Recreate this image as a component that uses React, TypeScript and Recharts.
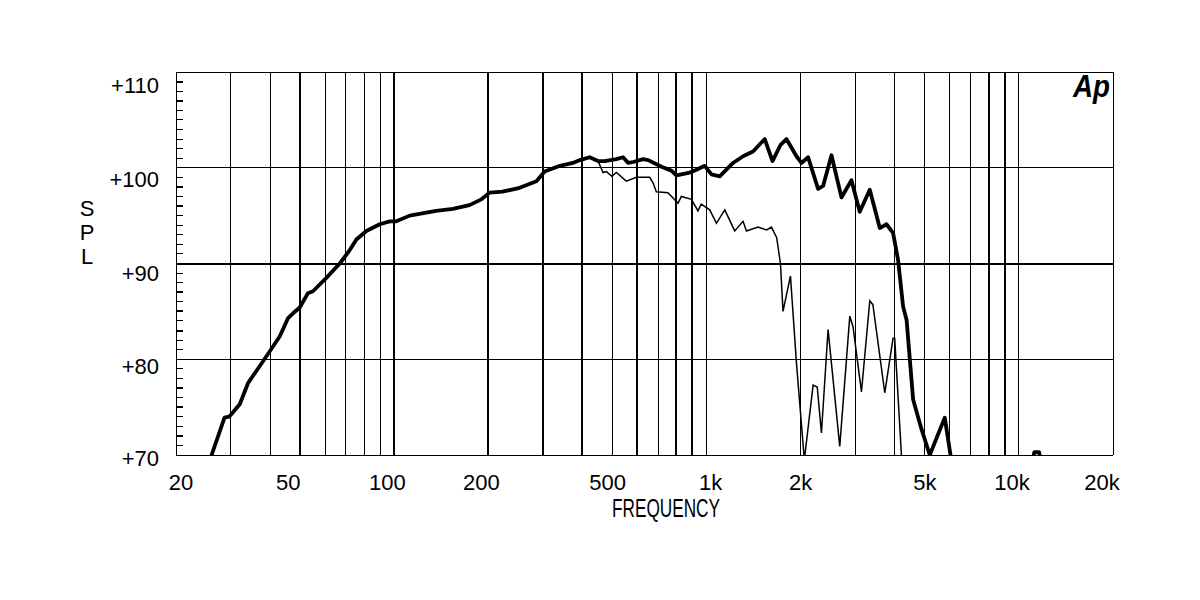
import { ComposedChart, Line, XAxis, YAxis, ReferenceLine } from "recharts";

// thick trace: on-axis response
const thickFreq = [
  24, 26, 28.6, 29.6, 32, 34, 37.1, 39.3, 43, 45.7, 47.4, 49.8, 52.9, 54.9, 60.6, 66.9, 72, 75.6, 81.4, 89.8,
  96.7, 101.5, 112, 136, 154, 174, 190, 202, 222, 252, 285, 303, 339, 373, 393, 422, 449, 472, 514, 540,
  561, 582, 626, 650, 717, 771, 800, 883, 928, 986, 1036, 1101, 1215, 1308, 1408, 1535, 1625, 1725, 1801, 1939,
  2012, 2113, 2274, 2360, 2510, 2702, 2908, 3091, 3329, 3584, 3765, 3952, 4100, 4256, 4367, 4582, 4874, 5181, 5786, 6036,
  6300, 8000, 10500, 11200, 11600, 12200, 20000,
];
const thickSpl = [
  67, 70, 73.9, 74.0, 75.3, 77.5, 79.3, 80.5, 82.4, 84.3, 84.8, 85.4, 86.9, 87.1, 88.5, 90.0, 91.4, 92.5, 93.4, 94.1,
  94.4, 94.4, 95.0, 95.5, 95.7, 96.1, 96.7, 97.4, 97.5, 97.9, 98.6, 99.6, 100.2, 100.5, 100.8, 101.1, 100.7, 100.7, 100.9, 101.1,
  100.5, 100.6, 100.9, 100.8, 100.1, 99.7, 99.2, 99.5, 99.8, 100.2, 99.3, 99.1, 100.5, 101.2, 101.7, 103.0, 100.7, 102.4, 103.0, 101.2,
  100.5, 101.1, 97.8, 98.1, 101.3, 96.9, 98.7, 95.4, 97.7, 93.7, 94.1, 93.2, 90.4, 85.5, 84.1, 75.8, 72.7, 70.0, 73.9, 70.0,
  64, 60, 66, 70.3, 70.3, 66, 55,
];

// thin trace: off-axis response, same as the thick one below ~450 Hz
const thinFreq = [
  24, 26, 28.6, 29.6, 32, 34, 37.1, 39.3, 43, 45.7, 47.4, 49.8, 52.9, 54.9, 60.6, 66.9, 72, 75.6, 81.4, 89.8,
  96.7, 101.5, 112, 136, 154, 174, 190, 202, 222, 252, 285, 303, 339, 373, 393, 422, 449,
  466, 478, 497, 514, 553, 596, 657, 674, 690, 752, 810, 830, 894, 938, 961, 1023, 1075, 1143, 1230, 1308,
  1341, 1460, 1557, 1612, 1676, 1723, 1756, 1855, 1939, 2055, 2192, 2260, 2331, 2448, 2668, 2873, 2942, 3131, 3329, 3406,
  3718, 3952, 4000, 4204, 4400, 6000,
];
const thinSpl = [
  67, 70, 73.9, 74.0, 75.3, 77.5, 79.3, 80.5, 82.4, 84.3, 84.8, 85.4, 86.9, 87.1, 88.5, 90.0, 91.4, 92.5, 93.4, 94.1,
  94.4, 94.4, 95.0, 95.5, 95.7, 96.1, 96.7, 97.4, 97.5, 97.9, 98.6, 99.6, 100.2, 100.5, 100.8, 101.1, 100.7,
  99.5, 99.6, 99.1, 99.5, 98.6, 99.0, 99.0, 98.4, 97.5, 97.4, 96.3, 97.0, 96.7, 95.5, 96.2, 95.6, 94.2, 95.6, 93.4, 94.4,
  93.4, 93.8, 93.5, 93.8, 92.7, 90.0, 85.0, 88.7, 79.6, 69.5, 77.3, 77.1, 72.3, 83.1, 70.9, 84.5, 83.4, 76.6, 86.1, 85.7,
  76.5, 82.2, 82.2, 70, 64, 55,
];

const xTicks = [20, 50, 100, 200, 500, 1000, 2000, 5000, 10000, 20000];
const xTickLabels = ["20", "50", "100", "200", "500", "1k", "2k", "5k", "10k", "20k"];
const yTicks = [70, 80, 90, 100, 110];
const yTickLabels = ["+70", "+80", "+90", "+100", "+110"];
const gridFreqs = [
  30, 40, 50, 60, 70, 80, 90, 100, 200, 300, 400, 500, 600, 700, 800, 900, 1000,
  2000, 3000, 4000, 5000, 6000, 7000, 8000, 9000, 10000,
];

const thickData = thickFreq.map((f, i) => ({ f, spl: thickSpl[i] }));
const thinData = thinFreq.map((f, i) => ({ f, spl: thinSpl[i] }));
// 1 dB minor ticks on the left frame
const minorTicks = Array.from({ length: 39 }, (_, i) => 71 + i).filter((v) => v % 10 !== 0);

const FONT = "'Liberation Sans', Arial, Helvetica, sans-serif";
const boldGrid = [50, 100, 200, 300, 400, 600, 800, 900, 8000, 9000];
const boldMinor = [72, 75, 77, 83, 85, 87, 96, 98, 107, 109];
// the original plotter nudged its labels a little off the grid lines
const xShift: Record<number, number> = {
  20: 5, 50: -12, 100: -7, 200: -7, 500: -5, 1000: 4, 2000: 0, 5000: 0, 10000: -7, 20000: -11,
};
const yShift: Record<number, number> = { 70: 3, 80: 6.5, 90: 9, 100: 11, 110: 13 };

function XTick(props: any) {
  const { x, y, payload } = props;
  const i = xTicks.indexOf(payload.value);
  return (
    <text x={x + (xShift[payload.value] ?? 0)} y={y + 35} textAnchor="middle" fontFamily={FONT} fontSize={22} fill="#000">
      {xTickLabels[i]}
    </text>
  );
}

function YTick(props: any) {
  const { x, y, payload } = props;
  const i = yTicks.indexOf(payload.value);
  return (
    <text x={x} y={y + (yShift[payload.value] ?? 0) + 8} textAnchor="end" fontFamily={FONT} fontSize={22} fill="#000">
      {yTickLabels[i]}
    </text>
  );
}

export default function App() {
  return (
    <div style={{ position: "absolute", left: 0, top: 0, width: 1200, height: 600, background: "#fff" }}>
      <ComposedChart width={1200} height={600} margin={{ top: 72, right: 87, bottom: 85, left: 116 }}>
        <XAxis
          type="number"
          dataKey="f"
          scale="log"
          domain={[20, 20000]}
          allowDataOverflow
          ticks={xTicks}
          interval={0}
          tick={<XTick />}
          tickLine={false}
          axisLine={false}
          tickSize={0}
          tickMargin={0}
          height={60}
        />
        <YAxis
          type="number"
          domain={[70, 110]}
          allowDataOverflow
          ticks={yTicks}
          interval={0}
          tick={<YTick />}
          tickLine={false}
          axisLine={false}
          tickSize={0}
          tickMargin={17}
          width={60}
        />
        {gridFreqs.map((f) => (
          <ReferenceLine
            key={"v" + f}
            x={f}
            stroke="#000"
            strokeWidth={boldGrid.includes(f) ? 2 : 1}
            shapeRendering="crispEdges"
          />
        ))}
        {yTicks.map((v) => (
          <ReferenceLine
            key={"h" + v}
            y={v}
            stroke="#000"
            strokeWidth={v === 90 ? 2 : 1}
            shapeRendering="crispEdges"
          />
        ))}
        {minorTicks.map((v) => (
          <ReferenceLine
            key={"m" + v}
            segment={[
              { x: 20, y: v },
              { x: 21.05, y: v },
            ]}
            stroke="#000"
            strokeWidth={boldMinor.includes(v) ? 2 : 1}
            shapeRendering="crispEdges"
          />
        ))}
        <ReferenceLine x={20} stroke="#000" strokeWidth={1} shapeRendering="crispEdges" />
        <ReferenceLine x={20000} stroke="#000" strokeWidth={1} shapeRendering="crispEdges" />
        <Line
          data={thinData}
          dataKey="spl"
          type="linear"
          stroke="#000"
          strokeWidth={1.5}
          dot={false}
          isAnimationActive={false}
        />
        <Line
          data={thickData}
          dataKey="spl"
          type="linear"
          stroke="#000"
          strokeWidth={3.8}
          strokeLinejoin="round"
          dot={false}
          isAnimationActive={false}
        />
      </ComposedChart>
      <svg
        width={1200}
        height={600}
        style={{ position: "absolute", left: 0, top: 0, pointerEvents: "none" }}
      >
        <g fontFamily={FONT} fontSize={22} fill="#000" textAnchor="middle">
          <text x={87} y={216}>S</text>
          <text x={87} y={240}>P</text>
          <text x={87} y={264}>L</text>
        </g>
        <text
          x={666}
          y={517}
          textAnchor="middle"
          fontFamily={FONT}
          fontSize={25}
          textLength={108}
          lengthAdjust="spacingAndGlyphs"
          fill="#000"
        >
          FREQUENCY
        </text>
        <text
          x={1073}
          y={97}
          fontFamily={FONT}
          fontSize={31}
          fontWeight="bold"
          fontStyle="italic"
          textLength={37}
          lengthAdjust="spacingAndGlyphs"
          fill="#000"
        >
          Ap
        </text>
      </svg>
    </div>
  );
}
